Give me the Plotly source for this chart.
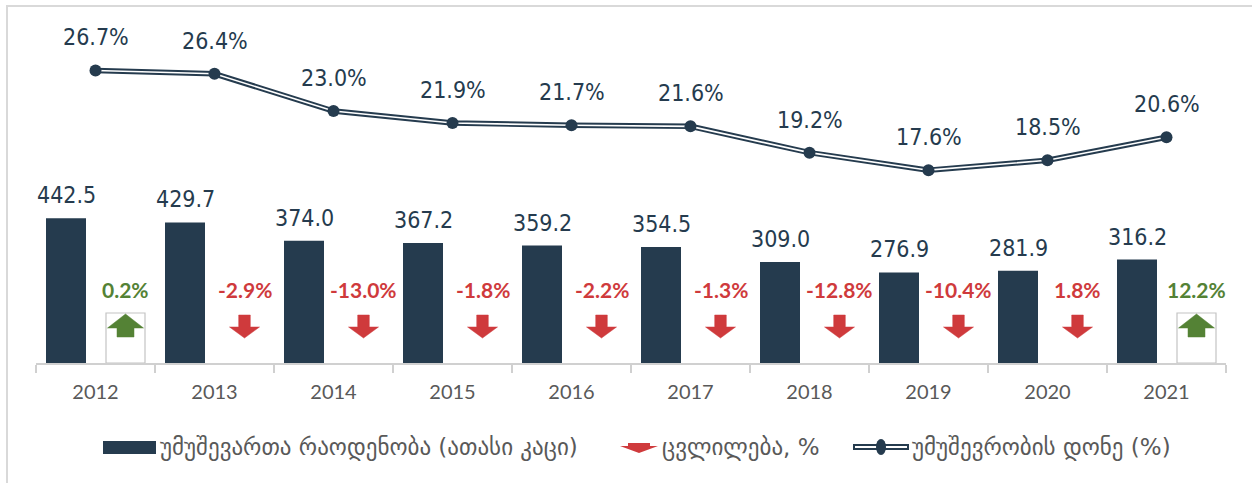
import plotly.graph_objects as go

# ---------------- data ----------------
years = ["2012", "2013", "2014", "2015", "2016", "2017", "2018", "2019", "2020", "2021"]
unemployed_thousand = [442.5, 429.7, 374.0, 367.2, 359.2, 354.5, 309.0, 276.9, 281.9, 316.2]
unemployment_rate = [26.7, 26.4, 23.0, 21.9, 21.7, 21.6, 19.2, 17.6, 18.5, 20.6]
change_pct = [0.2, -2.9, -13.0, -1.8, -2.2, -1.3, -12.8, -10.4, 1.8, 12.2]
change_dir = ["up", "down", "down", "down", "down", "down", "down", "down", "down", "up"]

legend_labels = ["უმუშევართა რაოდენობა (ათასი კაცი)", "ცვლილება, %", "უმუშევრობის დონე (%)"]

# ---------------- style ----------------
W, H = 1252, 483
ML, MR, MT, MB = 36, 26, 20, 120
PW, PH = W - ML - MR, H - MT - MB
BASE = H - MB  # pixel row of the baseline

DARK = "#253B4E"
GREEN = "#548235"
RED = "#CF3A3C"
GRAY_TXT = "#595959"
AXIS_GRAY = "#D0D0D0"

BAR_PX_PER_UNIT = 0.327
LINE_PX_PER_PT = 10.956
CAT_PX = PW / len(years)

bar_off = -29.5 / CAT_PX
box_off = 30.0 / CAT_PX
bar_w = 40 / CAT_PX

xs = list(range(len(years)))


def pxx(p):
    return (p - ML) / PW


def pxy(p):
    return (BASE - p) / PH


fig = go.Figure()

# main bars
fig.add_trace(go.Bar(
    x=[i + bar_off for i in xs], y=unemployed_thousand, width=bar_w,
    marker=dict(color=DARK, line=dict(width=0)), yaxis="y", showlegend=False,
    hoverinfo="skip",
))

# double line (dark outer, white inner) + markers
fig.add_trace(go.Scatter(x=xs, y=unemployment_rate, mode="lines", yaxis="y2",
                         line=dict(color=DARK, width=5.5), showlegend=False, hoverinfo="skip"))
fig.add_trace(go.Scatter(x=xs, y=unemployment_rate, mode="lines", yaxis="y2",
                         line=dict(color="white", width=1.6), showlegend=False, hoverinfo="skip"))
fig.add_trace(go.Scatter(x=xs, y=unemployment_rate, mode="markers", yaxis="y2",
                         marker=dict(color=DARK, size=12), showlegend=False, hoverinfo="skip"))

# change indicator boxes (only for up arrows), on a pixel-scaled overlay axis
box_h = 50
fig.add_trace(go.Bar(
    x=[i + box_off for i, d in zip(xs, change_dir) if d == "up"],
    y=[box_h for d in change_dir if d == "up"],
    width=bar_w - 1 / CAT_PX, yaxis="y3",
    marker=dict(color="white", line=dict(color="#C4C4C4", width=1.2)),
    showlegend=False, hoverinfo="skip",
))

# arrows
for i, d in zip(xs, change_dir):
    cx = i + box_off
    if d == "up":
        hw, sw = 18 / CAT_PX, 8.5 / CAT_PX
        tip, hb, bot = 49, 35, 26
        ax = [cx, cx + hw, cx + sw, cx + sw, cx - sw, cx - sw, cx - hw, cx]
        ay = [tip, hb, hb, bot, bot, hb, hb, tip]
        col = GREEN
    else:
        hw, sw = 15 / CAT_PX, 5.8 / CAT_PX
        top, hb, tip = 48, 36, 25
        ax = [cx - sw, cx + sw, cx + sw, cx + hw, cx, cx - hw, cx - sw, cx - sw]
        ay = [top, top, hb, hb, tip, hb, hb, top]
        col = RED
    fig.add_trace(go.Scatter(x=ax, y=ay, mode="lines", fill="toself", fillcolor=col,
                             line=dict(color=col, width=0.5), yaxis="y3",
                             showlegend=False, hoverinfo="skip"))

annotations = []
NUM_FONT = dict(family="Liberation Sans Narrow, Arial Narrow, DejaVu Sans Condensed, sans-serif",
                size=23, color=DARK)
for i, v in zip(xs, unemployed_thousand):
    annotations.append(dict(x=i + bar_off, y=v, xref="x", yref="y", text=f"{v:.1f}",
                            showarrow=False, yanchor="bottom", yshift=8, font=NUM_FONT))
for i, v in zip(xs, unemployment_rate):
    annotations.append(dict(x=i, y=v, xref="x", yref="y2", text=f"{v:.1f}%",
                            showarrow=False, yanchor="middle", yshift=33, font=NUM_FONT))
for i, v, d in zip(xs, change_pct, change_dir):
    annotations.append(dict(x=i + box_off, y=74, xref="x", yref="y3", text=f"{v:.1f}%",
                            showarrow=False, yanchor="middle",
                            font=dict(family="Lato, Open Sans, sans-serif", size=21,
                                      color=GREEN if d == "up" else RED, weight="bold")))

# ---------- custom legend ----------
LEG_Y = 447
LEG_FONT = dict(family="DejaVu Sans, sans-serif", size=23, color=GRAY_TXT)
shapes = []
shapes.append(dict(type="rect", xref="paper", yref="paper",
                   x0=pxx(103), x1=pxx(156), y0=pxy(454), y1=pxy(441),
                   fillcolor=DARK, line=dict(width=0)))
annotations.append(dict(x=pxx(158), y=pxy(LEG_Y), xref="paper", yref="paper",
                        text=legend_labels[0], showarrow=False, xanchor="left",
                        yanchor="middle", font=LEG_FONT))
# small red arrow
ap = [(628, 443), (650, 443), (650, 446), (658, 446), (639, 453), (620, 446), (628, 446)]
path = "M " + " L ".join(f"{pxx(a)},{pxy(b)}" for a, b in ap) + " Z"
shapes.append(dict(type="path", xref="paper", yref="paper", path=path,
                   fillcolor=RED, line=dict(width=0)))
annotations.append(dict(x=pxx(660), y=pxy(LEG_Y), xref="paper", yref="paper",
                        text=legend_labels[1], showarrow=False, xanchor="left",
                        yanchor="middle", font=LEG_FONT))
# double line symbol
shapes.append(dict(type="line", xref="paper", yref="paper", x0=pxx(853), x1=pxx(909),
                   y0=pxy(LEG_Y), y1=pxy(LEG_Y), line=dict(color=DARK, width=6)))
shapes.append(dict(type="line", xref="paper", yref="paper", x0=pxx(855), x1=pxx(907),
                   y0=pxy(LEG_Y), y1=pxy(LEG_Y), line=dict(color="white", width=2)))
shapes.append(dict(type="circle", xref="paper", yref="paper", x0=pxx(876), x1=pxx(886),
                   y0=pxy(LEG_Y + 8), y1=pxy(LEG_Y - 8), fillcolor=DARK, line=dict(width=0)))
annotations.append(dict(x=pxx(910), y=pxy(LEG_Y), xref="paper", yref="paper",
                        text=legend_labels[2], showarrow=False, xanchor="left",
                        yanchor="middle", font=LEG_FONT))

# outer border (left and top only visible)
shapes.append(dict(type="path", xref="paper", yref="paper",
                   path=f"M {pxx(7)},{pxy(490)} L {pxx(7)},{pxy(6)} L {pxx(1260)},{pxy(6)}",
                   line=dict(color="#D9D9D9", width=2)))

fig.update_layout(
    width=W, height=H,
    margin=dict(l=ML, r=MR, t=MT, b=MB),
    paper_bgcolor="white", plot_bgcolor="white",
    barmode="overlay",
    showlegend=False,
    xaxis=dict(range=[-0.5, len(years) - 0.5], tickvals=xs, ticktext=years,
               ticks="", showgrid=False, zeroline=False,
               showline=True, linecolor=AXIS_GRAY, linewidth=1.5,
               ticklabelstandoff=10,
               tickfont=dict(family="Lato, Open Sans, sans-serif", size=20, color=GRAY_TXT),
               minor=dict(ticks="outside", tick0=-0.5, dtick=1, ticklen=8,
                          tickcolor=AXIS_GRAY, tickwidth=1.5, showgrid=False),
               fixedrange=True),
    yaxis=dict(range=[0, PH / BAR_PX_PER_UNIT], visible=False, fixedrange=True),
    yaxis2=dict(range=[0, PH / LINE_PX_PER_PT], overlaying="y", visible=False, fixedrange=True),
    yaxis3=dict(range=[0, PH], overlaying="y", visible=False, fixedrange=True),
    annotations=annotations,
    shapes=shapes,
)

fig.write_html("out.html", config={"displayModeBar": False},
               post_script="document.body.style.margin='0';")
